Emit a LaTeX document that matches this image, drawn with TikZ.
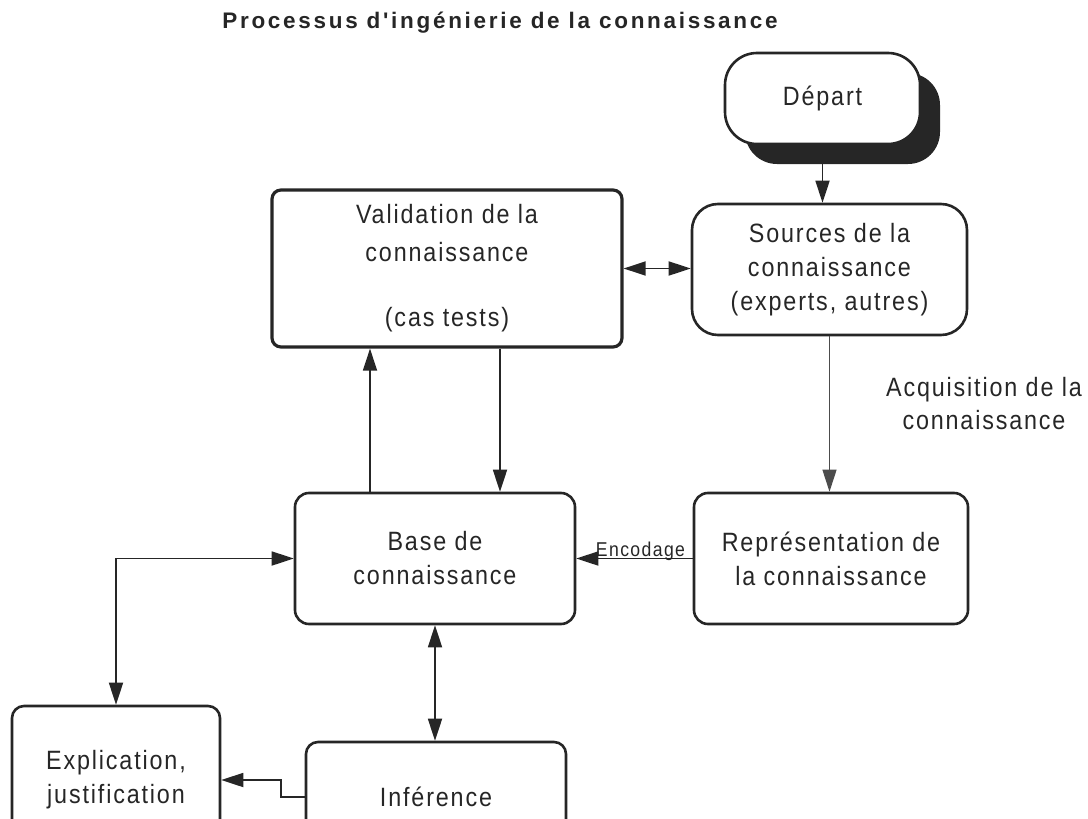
\documentclass[tikz,border=0pt]{standalone}
\usepackage{fontspec}
\setmainfont{Liberation Sans}
\newfontfamily\boxfont[FakeStretch=0.88,LetterSpace=7]{Liberation Sans}
\newfontfamily\headfont[LetterSpace=12]{Liberation Sans}
\usetikzlibrary{arrows.meta}
\definecolor{ink}{HTML}{262626}
\begin{document}
\begin{tikzpicture}[x=1pt,y=-1pt,
  every node/.style={text=ink},
  box/.style={draw=ink, line width=2.6pt, fill=white, inner sep=0pt, align=center,
    font=\boxfont\fontsize{26.5}{34}\selectfont},
  link/.style={draw=ink, line width=1.8pt},
  thinlink/.style={draw=black!70, line width=1.1pt},
  tip/.style={-{Triangle[length=22pt,width=14pt]}},
  tips/.style={{Triangle[length=22pt,width=14pt]}-{Triangle[length=22pt,width=14pt]}},
  lbl/.style={inner sep=0pt, align=center, font=\boxfont\fontsize{26.5}{33}\selectfont},
]
\useasboundingbox (0,0) rectangle (1088,819);
\clip (0,0) rectangle (1088,819);

% title
\node[anchor=base, inner sep=0pt, font=\headfont\fontsize{22.5}{26}\selectfont\bfseries] (title) at (500,28)
  {Processus d'ingénierie de la connaissance};

% start box with its drop shadow
\node[fill=ink, inner sep=0pt, rounded corners=32pt, minimum width=195pt, minimum height=91pt] (depsh) at (842.5,118.5) {};
\node[box, rounded corners=32pt, minimum width=195pt, minimum height=91pt] (dep) at (822.5,98.5) {Départ};

% main boxes
\node[box, rounded corners=26pt, minimum width=275pt, minimum height=131pt] (src) at (829.5,269.5)
  {Sources de la\\connaissance\\(experts, autres)};
\node[box, line width=3.2pt, rounded corners=9pt, minimum width=350pt, minimum height=157pt] (val) at (447,268.5)
  {Validation de la\\[4pt]connaissance\\[31pt](cas tests)};
\node[box, rounded corners=14pt, minimum width=280pt, minimum height=131pt] (base) at (435,558.5)
  {Base de\\connaissance};
\node[box, rounded corners=14pt, minimum width=274pt, minimum height=131pt] (rep) at (831,558.5)
  {Représentation de\\la connaissance};
\node[box, rounded corners=12pt, minimum width=208pt, minimum height=148pt] (exp) at (116,780)
  {Explication,\\justification};
\node[box, rounded corners=12pt, minimum width=260pt, minimum height=110pt] (inf) at (436,797)
  {Inférence};

% connectors
\draw[link, tip] (dep.south |- depsh.south) -- (dep.south |- src.north);
\draw[link, tips] (val.east) -- (val.east -| src.west);
\draw[thinlink, tip] (src.south) -- (src.south |- rep.north);
\node[lbl] (acq) at (984,404) {Acquisition de la\\connaissance};

\draw[link, tip] (rep.west) -- (base.east);
\node[anchor=base, inner sep=0pt, font=\boxfont\fontsize{20}{22}\selectfont] (enc) at (640.5,556) {Encodage};

\coordinate (upx) at (370,0);
\coordinate (downx) at (500,0);
\draw[link, tip] (base.north -| upx) -- (val.south -| upx);
\draw[link, tip] (val.south -| downx) -- (base.north -| downx);

\draw[link, tips] (base.west) -- (exp.north |- base.west) -- (exp.north);
\draw[link, tips] (base.south) -- (base.south |- inf.north);
\draw[link, tip] (inf.west) -- ++(-24,0) |- (exp.east);
\end{tikzpicture}
\end{document}
